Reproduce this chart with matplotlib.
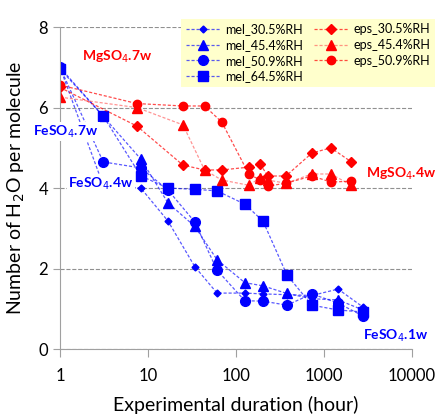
import numpy as np
import matplotlib.pyplot as plt

plt.rcParams['font.family'] = ['Lato', 'DejaVu Sans']

# melanterite (FeSO4) series, time in hours
t_mel = [1, 3.1, 8.3, 16.9, 34, 61, 126, 203, 380, 730, 1450, 2790]
mel_305 = [7.0, 4.07, 4.0, 3.18, 2.05, 1.39, 1.39, 1.37, 1.35, 1.33, 1.49, 1.04]
t_mel_454 = [1, 8.3, 16.9, 34, 61, 126, 203, 380, 730, 1450, 2790]
mel_454 = [7.0, 4.72, 3.63, 3.05, 2.22, 1.65, 1.57, 1.38, 1.25, 1.22, 0.97]
mel_509 = [7.0, 4.65, 4.5, 3.95, 3.16, 1.96, 1.2, 1.19, 1.09, 1.37, 1.14, 0.82]
mel_645 = [6.96, 5.79, 4.3, 4.0, 3.97, 3.93, 3.6, 3.18, 1.84, 1.09, 0.97, 0.92]

# epsomite (MgSO4) series
t_eps = [1, 7.5, 25, 44, 69, 140, 188, 230, 370, 730, 1200, 2050]
eps_305 = [6.5, 5.54, 4.57, 4.45, 4.45, 4.52, 4.6, 4.3, 4.3, 4.87, 5.0, 4.65]
eps_454 = [6.26, 6.0, 5.57, 4.45, 4.2, 4.07, 4.25, 4.2, 4.12, 4.35, 4.35, 4.07]
eps_509 = [6.56, 6.1, 6.04, 6.04, 5.64, 4.35, 4.2, 4.05, 4.12, 4.3, 4.15, 4.17]

fig = plt.figure(figsize=(4.41, 4.17), dpi=100)
ax = fig.add_axes([0.136, 0.163, 0.798, 0.772])

blue = '#0000FF'
red = '#FF0000'
lblue = (0, 0, 1, 0.65)
lred = (1, 0, 0, 0.7)
ls = (0, (2.5, 1.5))

def draw(t, v, lc, mc, m, ms, lab):
    ax.plot(t, v, color=lc, ls=ls, lw=0.9, marker=m, ms=ms,
            markerfacecolor=mc, markeredgecolor=mc, label=lab)

draw(t_mel, mel_305, lblue, blue, 'D', 3.5, 'mel_30.5%RH')
draw(t_mel_454, mel_454, lblue, blue, '^', 7, 'mel_45.4%RH')
draw(t_mel, mel_509, lblue, blue, 'o', 7, 'mel_50.9%RH')
draw(t_mel, mel_645, lblue, blue, 's', 6.5, 'mel_64.5%RH')
draw(t_eps, eps_305, lred, red, 'D', 5.5, 'eps_30.5%RH')
draw(t_eps, eps_454, (1, 0.3, 0.3, 0.6), red, '^', 7, 'eps_45.4%RH')
draw(t_eps, eps_509, lred, red, 'o', 6, 'eps_50.9%RH')

ax.set_xscale('log')
ax.set_xlim(1, 10000)
ax.set_ylim(0, 8)
ax.set_xticks([1, 10, 100, 1000, 10000])
ax.set_xticklabels(['1', '10', '100', '1000', '10000'])
ax.minorticks_off()
ax.set_yticks([0, 2, 4, 6, 8])
ax.yaxis.grid(True, ls='--', color='#909090', lw=0.8)
ax.set_axisbelow(True)
for s in ['top', 'right']:
    ax.spines[s].set_visible(False)
for s in ['left', 'bottom']:
    ax.spines[s].set_color('#a0a0a0')
ax.tick_params(axis='x', colors='#a0a0a0', labelcolor='black', labelsize=12, length=6, pad=8)
ax.tick_params(axis='y', colors='#a0a0a0', labelcolor='black', labelsize=12, length=5)

ax.set_xlabel('Experimental duration (hour)', fontsize=14, labelpad=8)
ax.set_ylabel('Number of H$_2$O per molecule', fontsize=14, labelpad=8)

kw = dict(fontsize=10, fontweight='bold', transform=fig.transFigure, zorder=5)
wb = dict(facecolor='white', edgecolor='none', pad=1)
fig.text(0.185, 0.855, 'MgSO$_4$.7w', color=red, **kw)
fig.text(0.075, 0.675, 'FeSO$_4$.7w', color=blue, bbox=wb, **kw)
fig.text(0.155, 0.55, 'FeSO$_4$.4w', color=blue, bbox=wb, **kw)
fig.text(0.99, 0.573, 'MgSO$_4$.4w', color=red, ha='right', **kw)
fig.text(0.97, 0.185, 'FeSO$_4$.1w', color=blue, ha='right', **kw)

h, l = ax.get_legend_handles_labels()
leg = fig.legend(h, l, ncol=2,
                 loc='upper right', bbox_to_anchor=(1.0, 0.97), fontsize=9,
                 frameon=True, fancybox=False, handlelength=2.8, columnspacing=0.8,
                 handletextpad=0.4, labelspacing=0.3, borderpad=0.35)
leg.get_frame().set_facecolor('#FFFFCC')
leg.get_frame().set_edgecolor('none')
leg.get_frame().set_alpha(1)

fig.savefig('out.png', dpi=100)
